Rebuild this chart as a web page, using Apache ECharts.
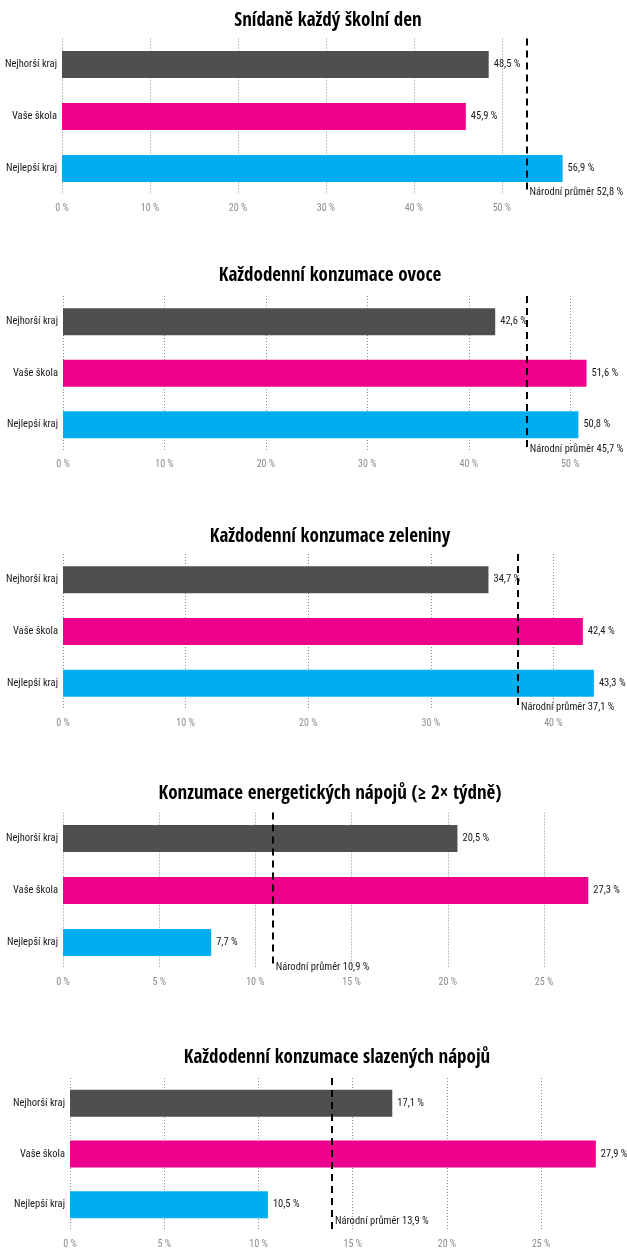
<!DOCTYPE html>
<html>
<head>
<meta charset="utf-8">
<script src="https://cdn.jsdelivr.net/npm/echarts@6/dist/echarts.min.js"></script>
<style>
  html, body { margin: 0; padding: 0; background: #fff; }
  #main { width: 627px; height: 1249px; }
</style>
</head>
<body>
<div id="main"></div>
<script>
// data
const titles = [
  "Snídaně každý školní den",
  "Každodenní konzumace ovoce",
  "Každodenní konzumace zeleniny",
  "Konzumace energetických nápojů (≥ 2× týdně)",
  "Každodenní konzumace slazených nápojů"
];
const categories = ["Nejhorší kraj", "Vaše škola", "Nejlepší kraj"];
const worstRegion = [48.5, 42.6, 34.7, 20.5, 17.1];
const yourSchool = [45.9, 51.6, 42.4, 27.3, 27.9];
const bestRegion = [56.9, 50.8, 43.3, 7.7, 10.5];
const nationalAvg = [52.8, 45.7, 37.1, 10.9, 13.9];
const tickStep = [10, 10, 10, 5, 5];
const axisMax = [59.9, 55, 46, 29, 29.5];

// layout of each panel (px)
const panels = [
  { left: 62, width: 527, top: 38.5, height: 156, titleX: 328, titleY: 25, noteDy: 24 },
  { left: 63, width: 558, top: 296, height: 154.5, titleX: 330, titleY: 280, noteDy: 25 },
  { left: 63, width: 566, top: 554, height: 155, titleX: 330, titleY: 541, noteDy: 24 },
  { left: 63, width: 558, top: 812.5, height: 156, titleX: 330, titleY: 798, noteDy: 25 },
  { left: 70, width: 556, top: 1078, height: 154.5, titleX: 337, titleY: 1062, noteDy: 17 }
];

const colors = ["#4f4f51", "#ec008c", "#00adef"];
const FONT = "'Roboto Condensed', 'Open Sans Condensed', sans-serif";
const TITLE_FONT = "'Open Sans Condensed', 'Roboto Condensed', sans-serif";

function pct(v) {
  return String(v).replace(".", ",") + " %";
}

const chart = echarts.init(document.getElementById("main"));

const title = [], grid = [], xAxis = [], yAxis = [], series = [];

panels.forEach(function (p, i) {
  title.push({
    text: titles[i],
    left: p.titleX,
    top: p.titleY - 13,
    textAlign: "center",
    padding: 0,
    textStyle: { fontFamily: TITLE_FONT, fontWeight: "bold", fontSize: 19, color: "#000" }
  });
  grid.push({ left: p.left, top: p.top, width: p.width, height: p.height });
  xAxis.push({
    type: "value",
    gridIndex: i,
    min: 0,
    max: axisMax[i],
    interval: tickStep[i],
    axisLine: { show: false },
    axisTick: { show: false },
    axisLabel: {
      showMaxLabel: false,
      margin: 9,
      fontFamily: FONT,
      fontSize: 10,
      color: "#8c8c8c",
      formatter: function (v) { return v + " %"; }
    },
    splitLine: {
      show: true,
      showMaxLine: false,
      lineStyle: { type: [1, 2], color: "#8a8a8a", width: 1 }
    }
  });
  yAxis.push({
    type: "category",
    gridIndex: i,
    inverse: true,
    data: categories,
    axisLine: { show: false },
    axisTick: { show: false },
    axisLabel: { margin: 5, fontFamily: FONT, fontSize: 10.5, color: "#1a1a1a" }
  });
  const vals = [worstRegion[i], yourSchool[i], bestRegion[i]];
  series.push({
    type: "bar",
    xAxisIndex: i,
    yAxisIndex: i,
    barWidth: 27,
    data: vals.map(function (v, k) {
      return { value: v, itemStyle: { color: colors[k] } };
    }),
    label: {
      show: true,
      position: "right",
      distance: 5,
      fontFamily: FONT,
      fontSize: 10.5,
      color: "#1a1a1a",
      formatter: function (d) { return pct(d.value); }
    },
    markLine: {
      silent: true,
      symbol: "none",
      label: { show: false },
      lineStyle: { color: "#000", width: 2, type: [7, 5] },
      data: [{ xAxis: nationalAvg[i] }]
    },
    markPoint: {
      silent: true,
      symbol: "circle",
      symbolSize: 0,
      label: {
        show: true,
        position: "right",
        distance: 3,
        offset: [0, p.noteDy],
        fontFamily: FONT,
        fontSize: 10.5,
        color: "#1a1a1a",
        formatter: "Národní průměr " + pct(nationalAvg[i])
      },
      data: [{ coord: [nationalAvg[i], categories[2]] }]
    }
  });
});

chart.setOption({
  animation: false,
  title: title,
  grid: grid,
  xAxis: xAxis,
  yAxis: yAxis,
  series: series
});
</script>
</body>
</html>
